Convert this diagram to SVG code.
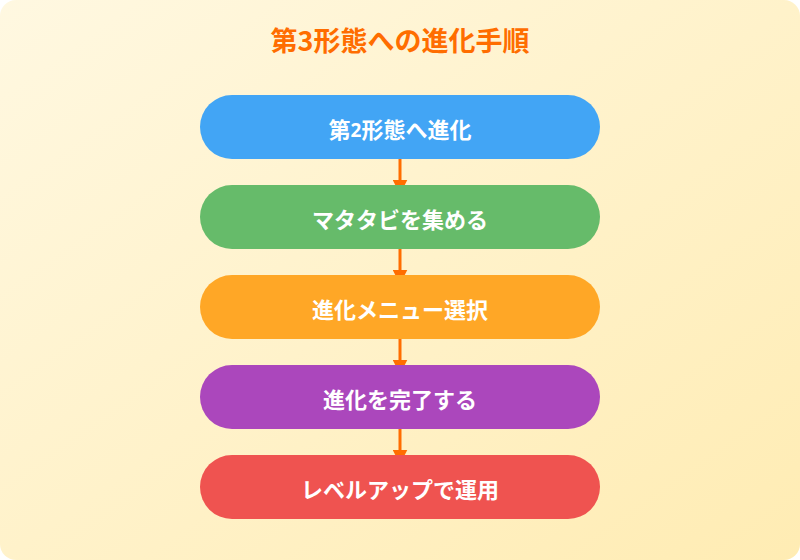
<svg xmlns="http://www.w3.org/2000/svg" width="800" height="560" viewBox="0 0 800 560">
<defs>
<linearGradient id="bg" x1="0" y1="0" x2="1" y2="1">
<stop offset="0" stop-color="#FFF8E1"/>
<stop offset="1" stop-color="#FFECB3"/>
</linearGradient>
<marker id="arr" viewBox="0 0 10 10" refX="5" refY="5" markerWidth="5" markerHeight="5" orient="auto" markerUnits="strokeWidth">
<path d="M0,0 L10,5 L0,10 z" fill="#FF6D00"/>
</marker>
<style>
.title{font-family:"Noto Sans CJK JP","Noto Sans",sans-serif;font-weight:bold;font-size:27px;fill:#FF6D00;text-anchor:middle}
.lbl{font-family:"Noto Sans CJK JP","Noto Sans",sans-serif;font-weight:bold;font-size:22px;fill:#FFFFFF;text-anchor:middle;dominant-baseline:central}
.dig{font-family:"Open Sans","Noto Sans",sans-serif;font-size:19px}
.conn{stroke:#FF6D00;stroke-width:3;fill:none}
</style>
</defs>
<rect x="0" y="0" width="800" height="560" rx="16" fill="url(#bg)"/>
<text class="title" x="400" y="51">第3形態への進化手順</text>
<g id="connectors">
<line class="conn" x1="400" y1="159" x2="400" y2="187" marker-end="url(#arr)"/>
<line class="conn" x1="400" y1="249" x2="400" y2="277" marker-end="url(#arr)"/>
<line class="conn" x1="400" y1="339" x2="400" y2="367" marker-end="url(#arr)"/>
<line class="conn" x1="400" y1="429" x2="400" y2="457" marker-end="url(#arr)"/>
</g>
<g id="n1"><rect x="200" y="95" width="400" height="64" rx="32" fill="#42A5F5"/><text class="lbl" x="400" y="128">第<tspan class="dig" dy="2">2</tspan><tspan dy="-2">形態へ進化</tspan></text></g>
<g id="n2"><rect x="200" y="185" width="400" height="64" rx="32" fill="#66BB6A"/><text class="lbl" x="400" y="218">マタタビを集める</text></g>
<g id="n3"><rect x="200" y="275" width="400" height="64" rx="32" fill="#FFA726"/><text class="lbl" x="400" y="308">進化メニュー選択</text></g>
<g id="n4"><rect x="200" y="365" width="400" height="64" rx="32" fill="#AB47BC"/><text class="lbl" x="400" y="398">進化を完了する</text></g>
<g id="n5"><rect x="200" y="455" width="400" height="64" rx="32" fill="#EF5350"/><text class="lbl" x="400" y="488">レベルアップで運用</text></g>
</svg>
